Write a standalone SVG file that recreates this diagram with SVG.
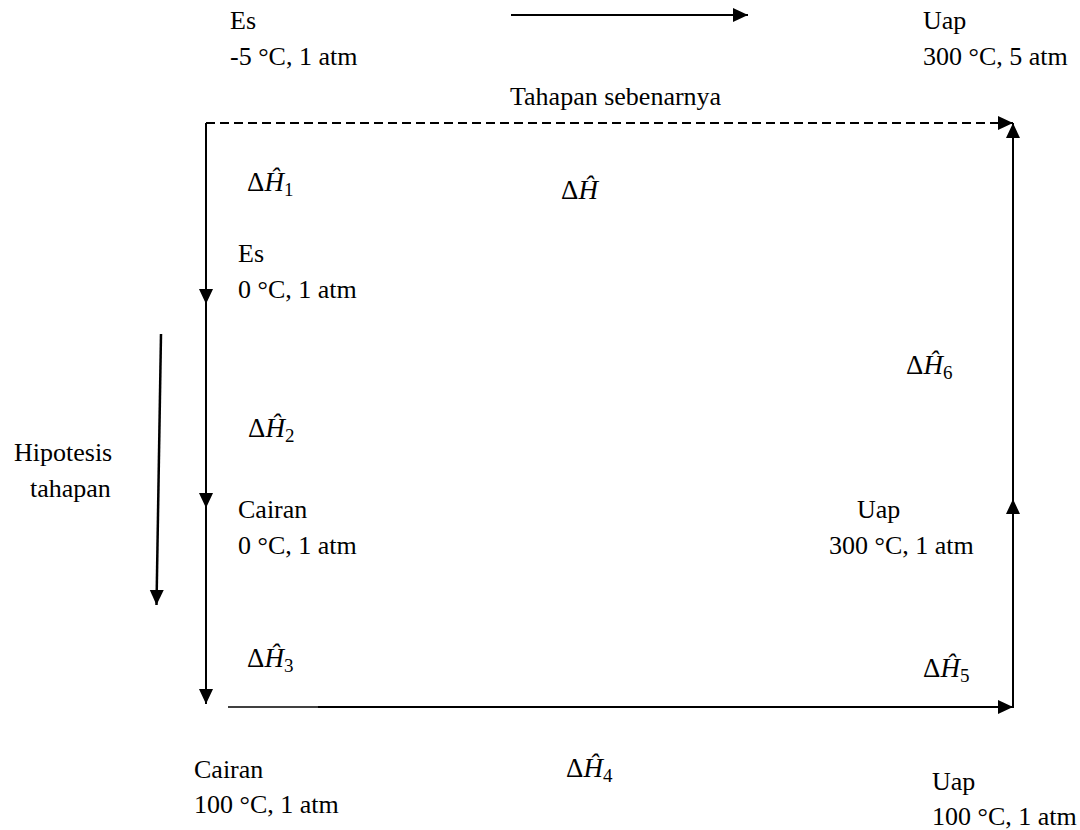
<svg xmlns="http://www.w3.org/2000/svg" width="1080" height="830" viewBox="0 0 1080 830">
<defs>
<marker id="ah" markerUnits="userSpaceOnUse" markerWidth="16" markerHeight="16" viewBox="0 0 16 16" refX="15" refY="8" orient="auto">
<path d="M0,1 L15,8 L0,15 Z" fill="#000"/>
</marker>
<style>
.t{font-family:"Liberation Serif","Times New Roman",serif;font-size:26px;fill:#000}
.m{font-family:"Liberation Serif","Times New Roman",serif;font-size:27px;fill:#000}
.m .h{font-style:italic}
.m .s{font-size:19px}
.ln{stroke:#000;stroke-width:2;fill:none}
.ar{marker-end:url(#ah)}
.dash{stroke-dasharray:9 5}
</style>
</defs>
<rect width="1080" height="830" fill="#fff"/>
<g id="connectors">
<line class="ln ar" x1="511" y1="15" x2="748" y2="15"/>
<line class="ln ar dash" x1="206" y1="123" x2="1013" y2="123"/>
<line class="ln ar" x1="206" y1="123" x2="206" y2="304"/>
<line class="ln ar" x1="206" y1="304" x2="206" y2="508"/>
<line class="ln ar" x1="206" y1="508" x2="206" y2="704"/>
<line class="ln" x1="228" y1="707" x2="318" y2="707" style="stroke-width:1.5"/>
<line class="ln ar" x1="318" y1="707" x2="1013" y2="707"/>
<line class="ln ar" x1="1013" y1="708" x2="1013" y2="499"/>
<line class="ln ar" x1="1013" y1="499" x2="1013" y2="123"/>
<line class="ln ar" x1="161" y1="334" x2="156.5" y2="605" style="stroke-width:2.5"/>
</g>
<g id="node-es-start"><text class="t" x="230" y="29">Es</text><text class="t" x="230" y="65">-5 °C, 1 atm</text></g>
<g id="label-actual"><text class="t" x="510" y="105">Tahapan sebenarnya</text></g>
<g id="node-uap-end"><text class="t" x="923" y="29">Uap</text><text class="t" x="923" y="65">300 °C, 5 atm</text></g>
<g id="label-dh1"><text class="m" x="247" y="191">Δ<tspan class="h">Ĥ</tspan><tspan class="s" dy="5">1</tspan></text></g>
<g id="label-dh"><text class="m" x="561" y="199">Δ<tspan class="h">Ĥ</tspan></text></g>
<g id="node-es-0"><text class="t" x="238" y="262">Es</text><text class="t" x="238" y="298">0 °C, 1 atm</text></g>
<g id="label-dh6"><text class="m" x="906" y="374">Δ<tspan class="h">Ĥ</tspan><tspan class="s" dy="5">6</tspan></text></g>
<g id="label-dh2"><text class="m" x="248" y="437">Δ<tspan class="h">Ĥ</tspan><tspan class="s" dy="5">2</tspan></text></g>
<g id="label-hypo"><text class="t" x="14" y="461">Hipotesis</text><text class="t" x="30" y="497">tahapan</text></g>
<g id="node-cairan-0"><text class="t" x="238" y="518">Cairan</text><text class="t" x="238" y="554">0 °C, 1 atm</text></g>
<g id="node-uap-300"><text class="t" x="857" y="518">Uap</text><text class="t" x="829" y="554">300 °C, 1 atm</text></g>
<g id="label-dh3"><text class="m" x="247" y="667">Δ<tspan class="h">Ĥ</tspan><tspan class="s" dy="5">3</tspan></text></g>
<g id="label-dh5"><text class="m" x="923" y="677">Δ<tspan class="h">Ĥ</tspan><tspan class="s" dy="5">5</tspan></text></g>
<g id="node-cairan-100"><text class="t" x="194" y="778">Cairan</text><text class="t" x="194" y="813">100 °C, 1 atm</text></g>
<g id="label-dh4"><text class="m" x="566" y="777">Δ<tspan class="h">Ĥ</tspan><tspan class="s" dy="5">4</tspan></text></g>
<g id="node-uap-100"><text class="t" x="932" y="790">Uap</text><text class="t" x="932" y="825">100 °C, 1 atm</text></g>
</svg>
